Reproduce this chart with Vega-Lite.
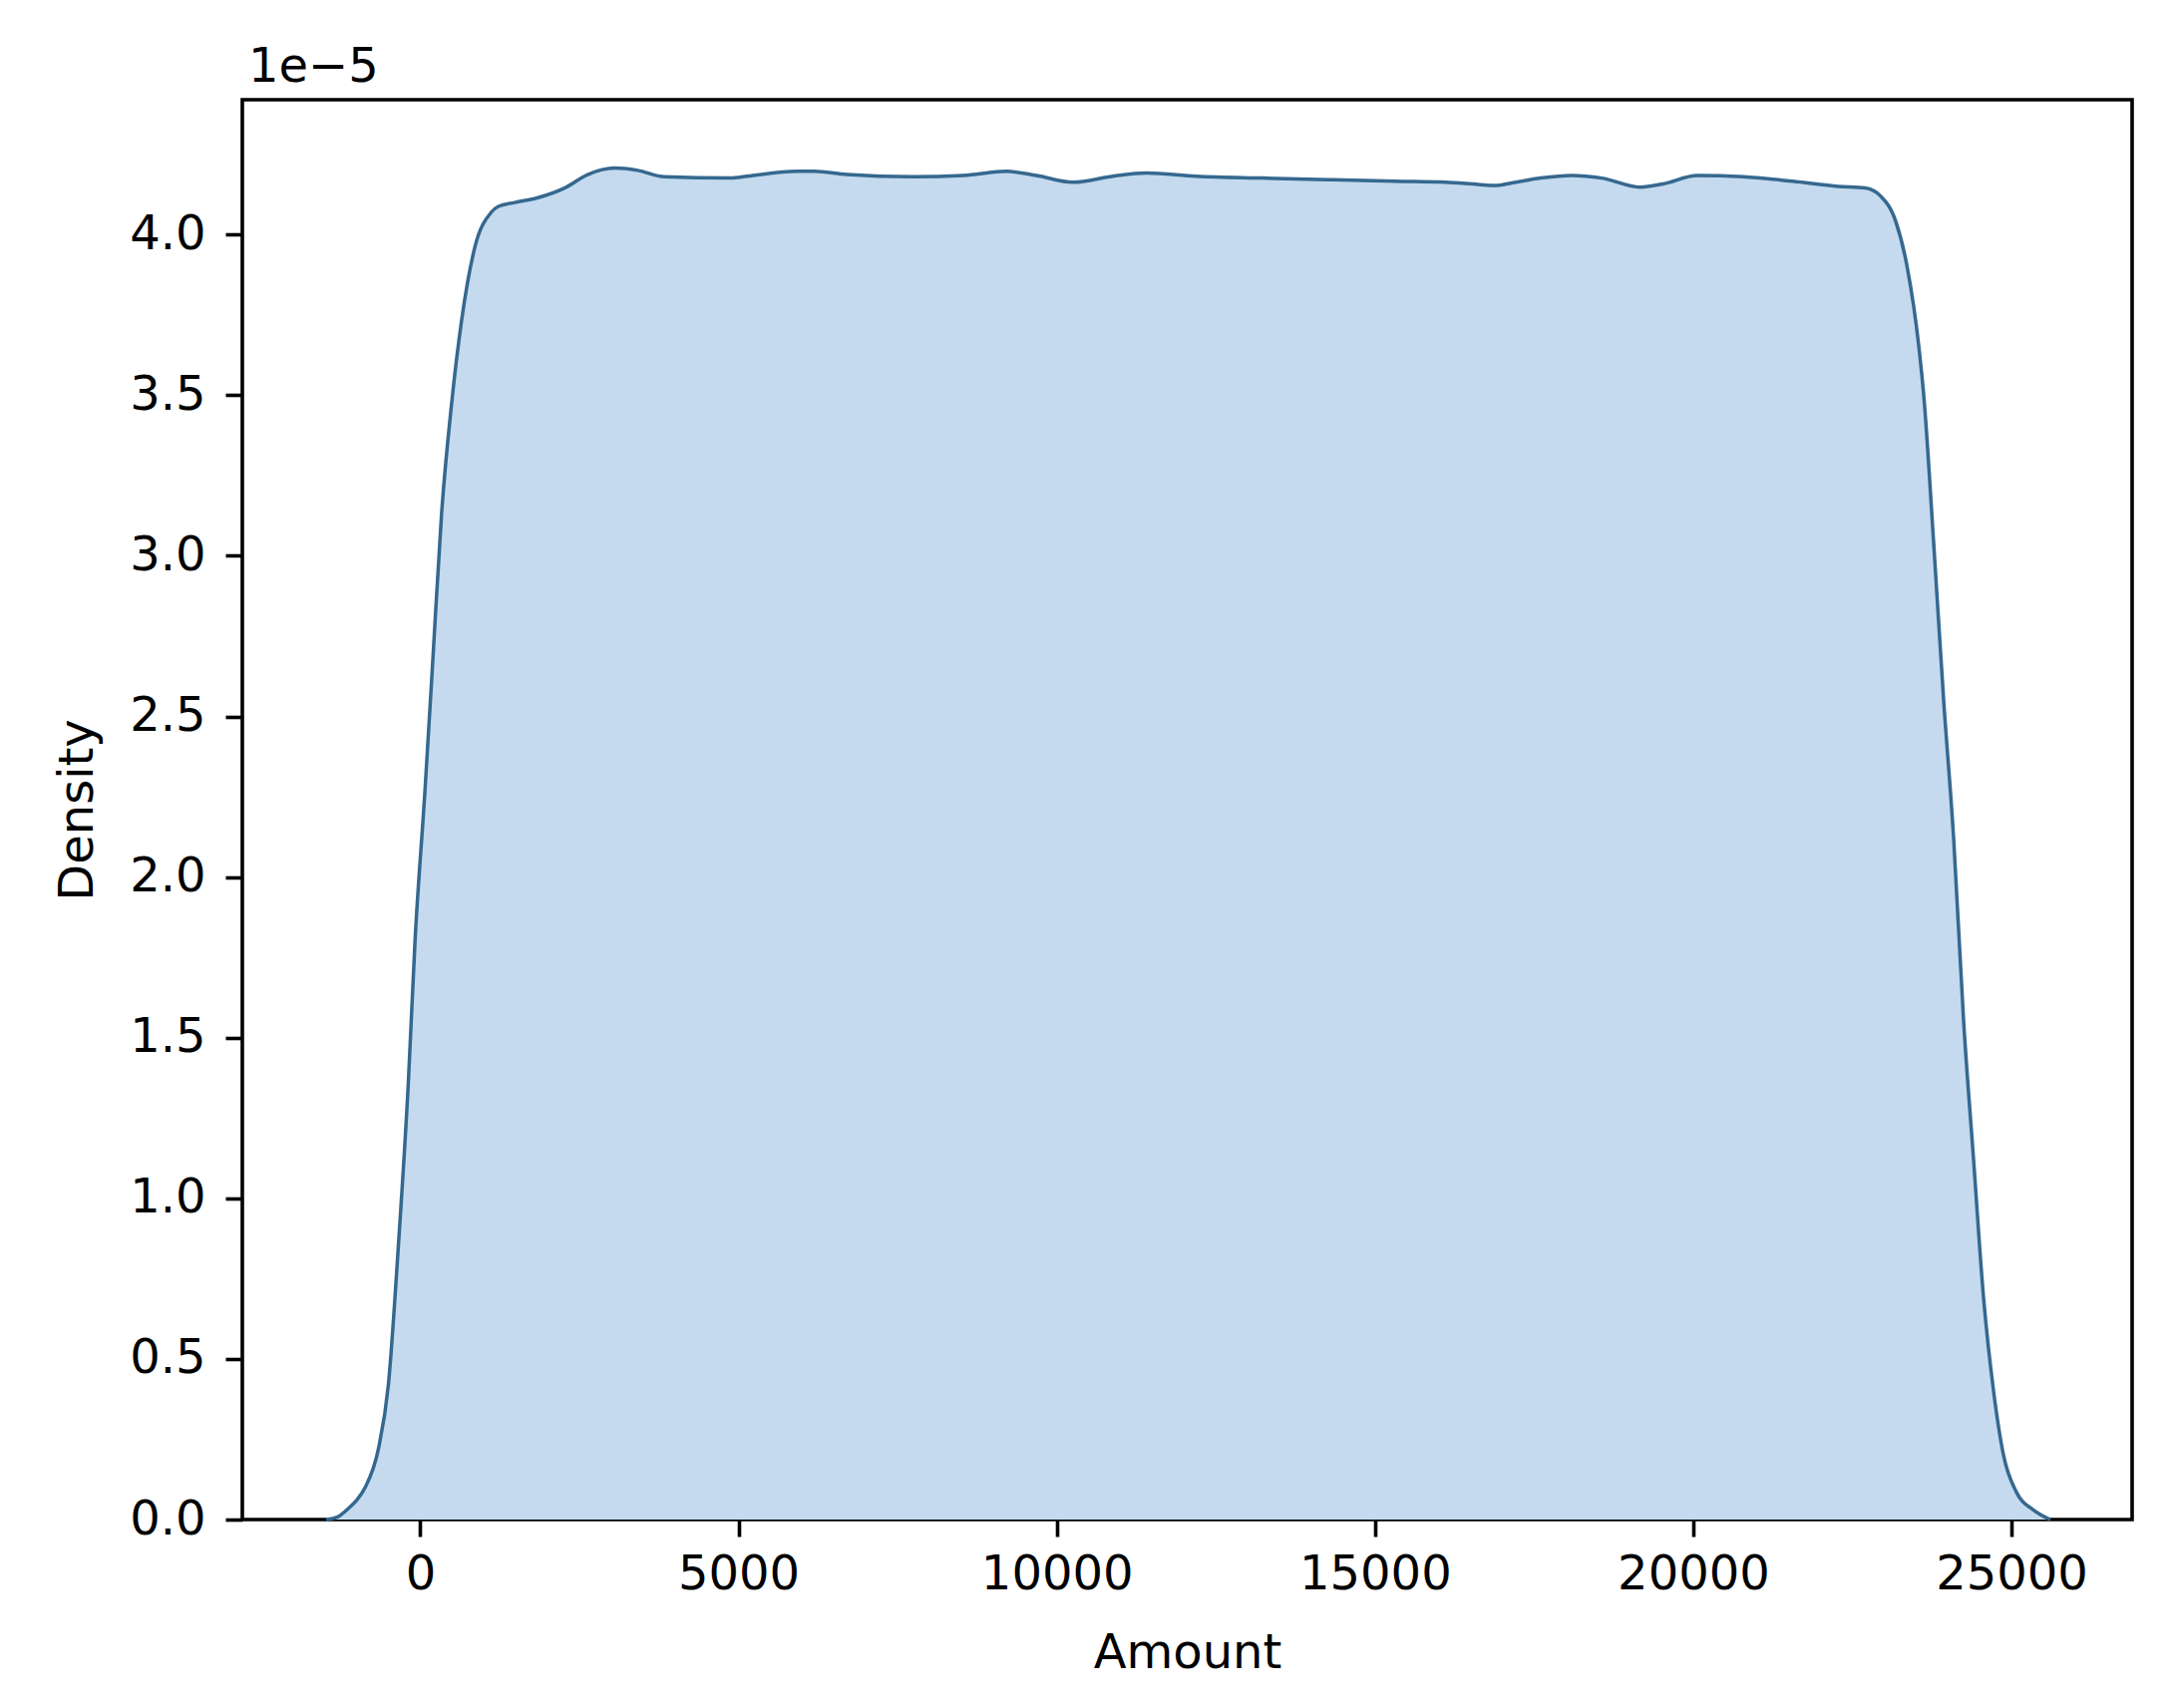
{
  "$schema": "https://vega.github.io/schema/vega-lite/v6.json",
  "autosize": "none",
  "width": 1895,
  "height": 1424,
  "padding": {"left": 243, "top": 100, "right": 44, "bottom": 189},
  "background": "white",
  "config": {
    "view": {"stroke": "black", "strokeWidth": 3.6},
    "font": "DejaVu Sans",
    "axis": {
      "grid": false,
      "domain": false,
      "labelFont": "DejaVu Sans",
      "labelFontSize": 48,
      "labelColor": "black",
      "tickColor": "black",
      "tickSize": 17,
      "tickWidth": 3.6,
      "labelPadding": 14,
      "titleFont": "DejaVu Sans",
      "titleFontSize": 48,
      "titleFontWeight": "normal",
      "titleColor": "black"
    },
    "title": {"font": "DejaVu Sans", "fontSize": 48, "fontWeight": "normal", "color": "black"}
  },
  "title": {"text": "1e−5", "anchor": "start", "frame": "group", "offset": 8, "dx": 6},
  "data": {
    "values": [
      {"Amount": -1480, "Density": 0.0},
      {"Amount": -1300, "Density": 0.008e-5},
      {"Amount": -1128, "Density": 0.035e-5},
      {"Amount": -1000, "Density": 0.06e-5},
      {"Amount": -866, "Density": 0.1e-5},
      {"Amount": -658, "Density": 0.22e-5},
      {"Amount": -501, "Density": 0.42e-5},
      {"Amount": -345, "Density": 0.85e-5},
      {"Amount": -188, "Density": 1.36e-5},
      {"Amount": -83, "Density": 1.80e-5},
      {"Amount": 74, "Density": 2.27e-5},
      {"Amount": 204, "Density": 2.70e-5},
      {"Amount": 334, "Density": 3.13e-5},
      {"Amount": 490, "Density": 3.47e-5},
      {"Amount": 647, "Density": 3.73e-5},
      {"Amount": 856, "Density": 3.96e-5},
      {"Amount": 1117, "Density": 4.07e-5},
      {"Amount": 1227, "Density": 4.088e-5},
      {"Amount": 1483, "Density": 4.10e-5},
      {"Amount": 1848, "Density": 4.115e-5},
      {"Amount": 2266, "Density": 4.145e-5},
      {"Amount": 2632, "Density": 4.187e-5},
      {"Amount": 3050, "Density": 4.207e-5},
      {"Amount": 3415, "Density": 4.20e-5},
      {"Amount": 3833, "Density": 4.18e-5},
      {"Amount": 4871, "Density": 4.176e-5},
      {"Amount": 5137, "Density": 4.182e-5},
      {"Amount": 5921, "Density": 4.197e-5},
      {"Amount": 6182, "Density": 4.197e-5},
      {"Amount": 6704, "Density": 4.187e-5},
      {"Amount": 7748, "Density": 4.18e-5},
      {"Amount": 8531, "Density": 4.184e-5},
      {"Amount": 9211, "Density": 4.197e-5},
      {"Amount": 9681, "Density": 4.184e-5},
      {"Amount": 10256, "Density": 4.163e-5},
      {"Amount": 10882, "Density": 4.182e-5},
      {"Amount": 11404, "Density": 4.192e-5},
      {"Amount": 12187, "Density": 4.182e-5},
      {"Amount": 13232, "Density": 4.176e-5},
      {"Amount": 14270, "Density": 4.171e-5},
      {"Amount": 15320, "Density": 4.166e-5},
      {"Amount": 16103, "Density": 4.163e-5},
      {"Amount": 16625, "Density": 4.156e-5},
      {"Amount": 16886, "Density": 4.153e-5},
      {"Amount": 17148, "Density": 4.161e-5},
      {"Amount": 17605, "Density": 4.176e-5},
      {"Amount": 18085, "Density": 4.184e-5},
      {"Amount": 18563, "Density": 4.176e-5},
      {"Amount": 19165, "Density": 4.148e-5},
      {"Amount": 19525, "Density": 4.158e-5},
      {"Amount": 20064, "Density": 4.184e-5},
      {"Amount": 20785, "Density": 4.18e-5},
      {"Amount": 21563, "Density": 4.166e-5},
      {"Amount": 22283, "Density": 4.15e-5},
      {"Amount": 22700, "Density": 4.145e-5},
      {"Amount": 22943, "Density": 4.12e-5},
      {"Amount": 23183, "Density": 4.04e-5},
      {"Amount": 23360, "Density": 3.90e-5},
      {"Amount": 23545, "Density": 3.65e-5},
      {"Amount": 23621, "Density": 3.50e-5},
      {"Amount": 23777, "Density": 3.04e-5},
      {"Amount": 23934, "Density": 2.55e-5},
      {"Amount": 24091, "Density": 2.12e-5},
      {"Amount": 24248, "Density": 1.55e-5},
      {"Amount": 24404, "Density": 1.12e-5},
      {"Amount": 24561, "Density": 0.69e-5},
      {"Amount": 24718, "Density": 0.40e-5},
      {"Amount": 24875, "Density": 0.20e-5},
      {"Amount": 25078, "Density": 0.085e-5},
      {"Amount": 25344, "Density": 0.03e-5},
      {"Amount": 25611, "Density": 0.0}
    ]
  },
  "encoding": {
    "x": {
      "field": "Amount",
      "type": "quantitative",
      "scale": {"domain": [-2796, 26895], "nice": false, "zero": false},
      "axis": {"values": [0, 5000, 10000, 15000, 20000, 25000], "format": "d", "title": "Amount", "titlePadding": 31}
    },
    "y": {
      "field": "Density",
      "type": "quantitative",
      "scale": {"domain": [0, 4.42e-5], "nice": false},
      "axis": {
        "values": [0, 0.5e-5, 1e-5, 1.5e-5, 2e-5, 2.5e-5, 3e-5, 3.5e-5, 4e-5],
        "labelExpr": "format(datum.value * 100000, '.1f')",
        "labelPadding": 20,
        "title": "Density",
        "titlePadding": 27
      }
    }
  },
  "layer": [
    {"mark": {"type": "area", "color": "#c5daee", "opacity": 1, "interpolate": "monotone"}},
    {"mark": {"type": "line", "color": "#35688f", "strokeWidth": 3.5, "interpolate": "monotone"}}
  ]
}
